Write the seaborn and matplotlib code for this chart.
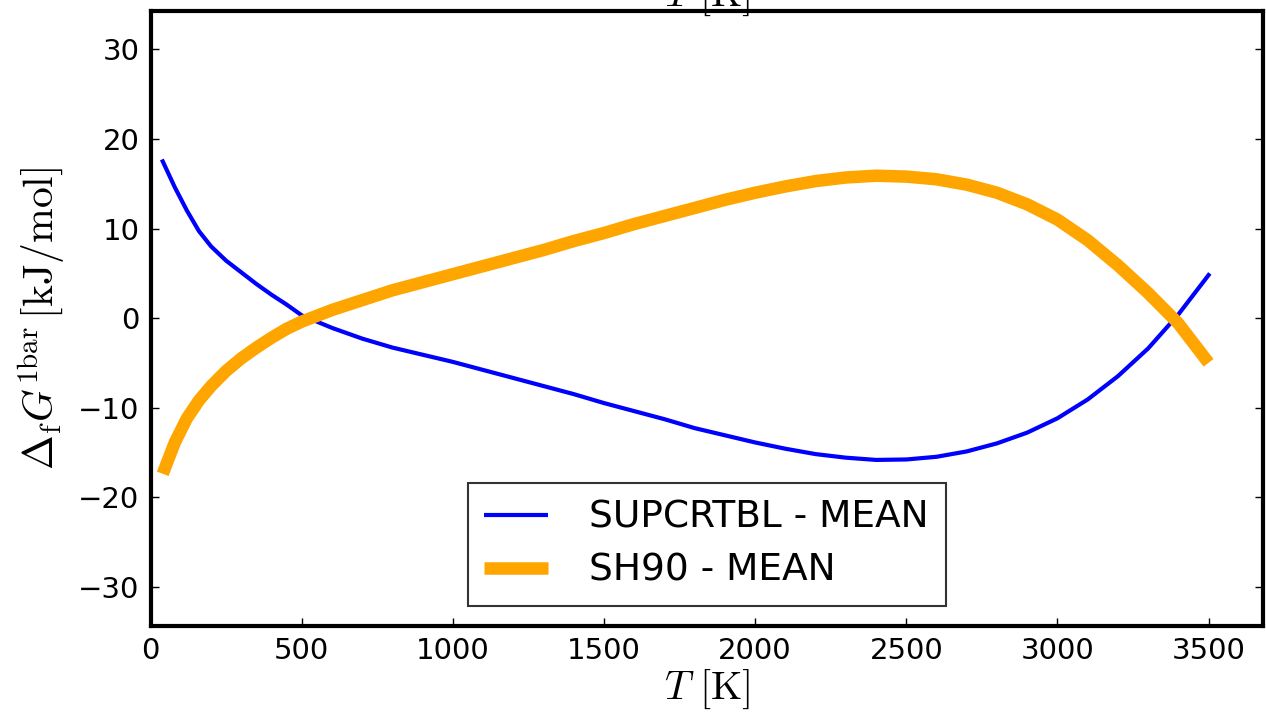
import matplotlib
matplotlib.use("Agg")
import matplotlib.pyplot as plt
import seaborn as sns
import pandas as pd

# temperatures [K]
T = [40, 80, 120, 160, 200, 250, 300, 350, 400, 450, 500, 600, 700, 800, 900, 1000,
     1100, 1200, 1300, 1400, 1500, 1600, 1700, 1800, 1900, 2000,
     2100, 2200, 2300, 2400, 2500, 2600, 2700, 2800, 2900, 3000,
     3100, 3200, 3300, 3400, 3500]

# SUPCRTBL - MEAN [kJ/mol]
supcrtbl = [17.5, 14.6, 12.0, 9.7, 8.0, 6.4, 5.1, 3.8, 2.6, 1.5, 0.3,
            -1.1, -2.3, -3.3, -4.1, -4.9,
            -5.8, -6.7, -7.6, -8.5, -9.5, -10.4, -11.3, -12.3, -13.1, -13.9,
            -14.6, -15.2, -15.6, -15.85, -15.8, -15.5, -14.9, -14.0, -12.8, -11.2,
            -9.1, -6.5, -3.4, 0.4, 4.8]

# SH90 - MEAN [kJ/mol]
sh90 = [-17.4, -13.9, -11.2, -9.2, -7.6, -5.9, -4.5, -3.3, -2.2, -1.2, -0.4,
        0.9, 2.0, 3.1, 4.0, 4.9,
        5.8, 6.7, 7.6, 8.6, 9.5, 10.5, 11.4, 12.3, 13.2, 14.0,
        14.7, 15.3, 15.7, 15.9, 15.8, 15.5, 14.9, 14.0, 12.7, 11.0,
        8.7, 5.9, 2.8, -0.6, -5.0]

sns.set_theme(style="white")
plt.rcParams["font.family"] = ["DejaVu Sans"]
plt.rcParams["mathtext.fontset"] = "cm"
for key in ["text.color", "axes.labelcolor", "xtick.color", "ytick.color"]:
    plt.rcParams[key] = "black"

df = pd.DataFrame({"T": T, "SUPCRTBL - MEAN": supcrtbl, "SH90 - MEAN": sh90})

fig, ax = plt.subplots(figsize=(12.66, 7.24), dpi=100)
fig.subplots_adjust(left=0.119, right=0.9976, bottom=0.1354, top=0.9848)

sns.lineplot(data=df, x="T", y="SUPCRTBL - MEAN", ax=ax, color="blue",
             linewidth=3, label="SUPCRTBL - MEAN",
             solid_capstyle="projecting", solid_joinstyle="round")
sns.lineplot(data=df, x="T", y="SH90 - MEAN", ax=ax, color="orange",
             linewidth=9, label="SH90 - MEAN",
             solid_capstyle="butt", solid_joinstyle="round")

ax.set_xlim(0, 3680)
ax.set_ylim(-34.4, 34.3)
ax.set_xticks([0, 500, 1000, 1500, 2000, 2500, 3000, 3500])
ax.set_yticks([-30, -20, -10, 0, 10, 20, 30])

ax.set_xlabel(r"$T\ [\mathrm{K}]$", fontsize=29, labelpad=2)
ax.set_ylabel(r"$\Delta_{\mathrm{f}}G^{\mathrm{1bar}}\,[\mathrm{kJ/mol}]$", fontsize=30, labelpad=8)

for s in ax.spines.values():
    s.set_linewidth(3)
    s.set_color("black")
ax.tick_params(direction="in", length=6, width=1, labelsize=21, pad=8,
               top=True, right=True, bottom=True, left=True)

# top axis label (cut off at figure edge)
top = ax.twiny()
top.set_xlim(ax.get_xlim())
top.set_xticks([])
top.set_xlabel(r"$T\ [\mathrm{K}]$", fontsize=29, labelpad=4)
for s in top.spines.values():
    s.set_visible(False)

leg = ax.legend(loc="lower center", fontsize=27, frameon=True, fancybox=False,
                handlelength=1.7, borderpad=0.45, labelspacing=0.45, handletextpad=1.1,
                borderaxespad=0, bbox_to_anchor=(0.5, 0.033))
leg.get_frame().set_edgecolor("black")
leg.get_frame().set_linewidth(1.5)
for line in leg.get_lines():
    line.set_solid_capstyle("butt")

plt.savefig("out.png", dpi=100)
